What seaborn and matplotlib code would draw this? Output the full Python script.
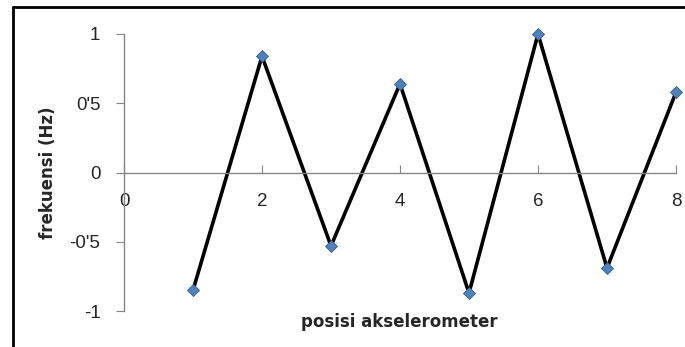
import numpy as np
import pandas as pd
import matplotlib
matplotlib.use('Agg')
import matplotlib.pyplot as plt
import matplotlib.lines as mlines
import seaborn as sns

# data
posisi = [1, 2, 3, 4, 5, 6, 7, 8]
frekuensi = [-0.85, 0.84, -0.53, 0.64, -0.87, 1.0, -0.69, 0.58]
x_ticks = [0, 2, 4, 6, 8]
y_ticks = [-1, -0.5, 0, 0.5, 1]
y_tick_labels = ['-1', "-0'5", '0', "0'5", '1']

df = pd.DataFrame({'posisi': posisi, 'frekuensi': frekuensi})

sns.set_style('white')
plt.rcParams['font.family'] = ['Liberation Sans', 'DejaVu Sans']

fig = plt.figure(figsize=(6.85, 3.47), dpi=100)
ax = fig.add_axes([124/685, 1 - 311/347, (676 - 124)/685, (311 - 34)/347])

sns.lineplot(data=df, x='posisi', y='frekuensi', ax=ax, color='black', linewidth=2.6,
             marker='D', markersize=6.5, markerfacecolor='#4F81BD',
             markeredgecolor='#385D8A', markeredgewidth=0.6, clip_on=False)

ax.set_xlim(0, 8)
ax.set_ylim(-1, 1)
ax.set_xticks(x_ticks)
ax.set_xticklabels([str(t) for t in x_ticks])
ax.set_yticks(y_ticks)
ax.set_yticklabels(y_tick_labels)

# x axis crosses at zero, like the spreadsheet chart
ax.spines['bottom'].set_position(('data', 0))
ax.spines['top'].set_visible(False)
ax.spines['right'].set_visible(False)
for s in ['bottom', 'left']:
    ax.spines[s].set_color('#868686')
    ax.spines[s].set_linewidth(1)

ax.tick_params(axis='x', direction='in', length=6, color='#868686', pad=15, labelsize=13.5)
ax.tick_params(axis='y', direction='out', length=6, color='#868686', pad=11, labelsize=13.5, left=True)
ax.tick_params(axis='x', bottom=True)

ax.set_xlabel('')
ax.set_ylabel('')
fig.text(48/685, 1 - 173/347, 'frekuensi (Hz)', rotation=90, ha='center', va='center',
         fontsize=12, fontweight='bold', family='DejaVu Sans')
fig.text(399/685, 1 - 322/347, 'posisi akselerometer', ha='center', va='center',
         fontsize=12, fontweight='bold', family='DejaVu Sans')

# outer chart frame (left and top edges visible)
fig.add_artist(mlines.Line2D([13/685, 13/685], [0, 1 - 7/347], color='black', linewidth=2,
                             transform=fig.transFigure))
fig.add_artist(mlines.Line2D([13/685, 1], [1 - 7/347, 1 - 7/347], color='black', linewidth=2,
                             transform=fig.transFigure))

plt.savefig('out.png', dpi=100)
